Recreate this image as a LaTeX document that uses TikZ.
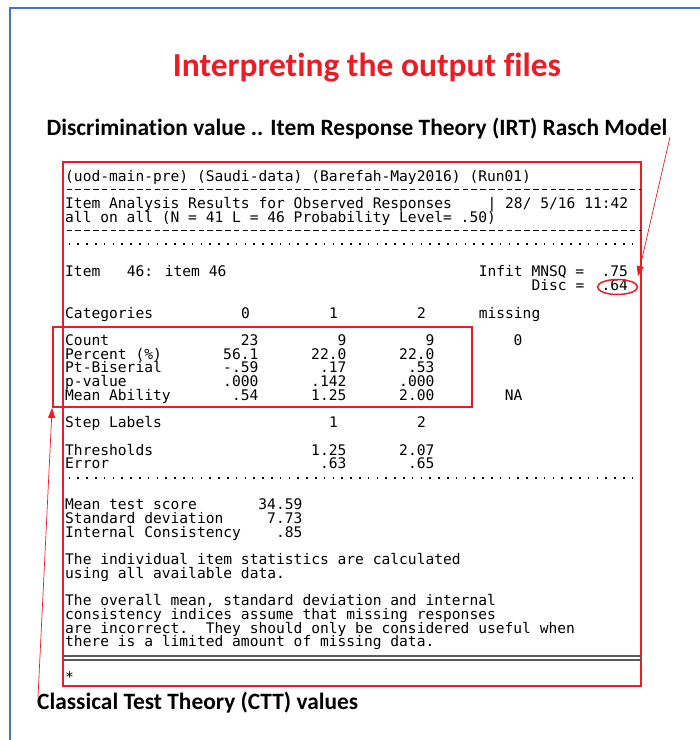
\documentclass[tikz,border=0pt]{standalone}
\usepackage{fontspec}
\setmainfont[Ligatures=NoCommon]{Carlito}
\newfontfamily\outfont{DejaVu Sans Mono}
\usetikzlibrary{arrows.meta,positioning,shapes.geometric}

\definecolor{slideblue}{RGB}{68,114,196}
\definecolor{markred}{RGB}{237,28,36}

\begin{document}
\begin{tikzpicture}[x=1pt, y=-1pt,
    declare function={cx(\c)=65+8.8*\c; ry(\r)=181+13.7*\r;},
    outtext/.style={font=\outfont\fontsize{14.6}{14}\selectfont, inner sep=0pt, anchor=base west},
    outnum/.style={outtext, anchor=base east},
    heading/.style={font=\bfseries\fontsize{33.5}{36}\selectfont, text=markred, inner sep=0pt},
    notelabel/.style={font=\bfseries\fontsize{23.4}{26}\selectfont, inner sep=0pt},
    outframe/.style={draw=markred, line width=1.2pt, minimum width=578pt, minimum height=524pt},
    cttframe/.style={draw=markred, line width=1.8pt, minimum width=419pt, minimum height=80pt},
    discmark/.style={draw=markred, ellipse, line width=1.5pt, minimum width=40pt, minimum height=15pt},
    dashrule/.style={line width=0.9pt, dash pattern=on 5.5pt off 3.3pt, dash phase=-1.6pt},
    dotrule/.style={line width=1.7pt, dash pattern=on 1.7pt off 7.1pt, dash phase=-3.5pt},
    doublerule/.style={line width=1.4pt, draw=black!65},
    pointer/.style={-{Triangle[length=10pt,width=7pt]}, draw=markred, line width=0.7pt},
    slideedge/.style={draw=slideblue, line width=1.6pt}
  ]
    \useasboundingbox (0,0) rectangle (700,740);
    \draw[slideedge] (10,740) -- (10,8) -- (700,8);

    % headings
    \node[heading] (title) at (367,68) {Interpreting the output files};
    \node[notelabel] (irt) at (357,129) {Discrimination value .. Item Response Theory (IRT) Rasch Model};
    \node[notelabel, anchor=west] (ctt) at (37,703) {Classical Test Theory (CTT) values};

    % output file
    \node[outframe] (outfile) at (352,424) {};
    \node[outtext] (head) at ({cx(0)},{ry(0)}) {(uod-main-pre) (Saudi-data) (Barefah-May2016) (Run01)};
    \draw[dashrule] ({cx(0)},189) -- (641,189);
    \node[outtext] (analysis) at ({cx(0)},{ry(2)}) {Item Analysis Results for Observed Responses};
    \node[outtext] (bar) at ({cx(48)},{ry(2)}) {|};
    \node[outtext] (stamp) at ({cx(50)},{ry(2)}) {28/ 5/16 11:42};
    \node[outtext] (allon) at ({cx(0)},{ry(3)}) {all on all (N = 41 L = 46 Probability Level= .50)};
    \draw[dashrule] ({cx(0)},230) -- (641,230);
    \draw[dotrule] ({cx(0)},244) -- (636,244);

    \node[outtext] (item) at ({cx(0)},{ry(7)}) {Item};
    \node[outtext] (itemno) at ({cx(7)},{ry(7)}) {46: item 46};
    \node[outtext] (infit) at ({cx(47)},{ry(7)}) {Infit MNSQ =};
    \node[outnum] (infitval) at ({cx(64)},{ry(7)}) {.75};
    \node[outtext] (disclab) at ({cx(53)},{ry(8)}) {Disc =};
    \node[outnum] (discval) at ({cx(64)},{ry(8)}) {.64};
    \node[discmark] (disc) at (617.5,287) {};

    \node[outtext] (cats) at ({cx(0)},{ry(10)}) {Categories};
    \node[outtext] (cat0) at ({cx(20)},{ry(10)}) {0};
    \node[outtext] (cat1) at ({cx(30)},{ry(10)}) {1};
    \node[outtext] (cat2) at ({cx(40)},{ry(10)}) {2};
    \node[outtext] (catm) at ({cx(47)},{ry(10)}) {missing};

    \foreach \r/\lab/\a/\b/\c in {12/Count/23/9/9, 13/Percent (\%)/56.1/22.0/22.0,
        14/Pt-Biserial/-.59/.17/.53, 15/p-value/.000/.142/.000, 16/Mean Ability/.54/1.25/2.00}{
      \node[outtext] (lab\r) at ({cx(0)},{ry(\r)}) {\lab};
      \node[outnum] (a\r) at ({cx(22)},{ry(\r)}) {\a};
      \node[outnum] (b\r) at ({cx(32)},{ry(\r)}) {\b};
      \node[outnum] (c\r) at ({cx(42)},{ry(\r)}) {\c};
    }
    \node[outnum] (miss12) at ({cx(52)},{ry(12)}) {0};
    \node[outnum] (miss16) at ({cx(52)},{ry(16)}) {NA};
    \node[cttframe] (cttbox) at (262.5,367) {};

    \node[outtext] (steps) at ({cx(0)},{ry(18)}) {Step Labels};
    \node[outtext] (step1) at ({cx(30)},{ry(18)}) {1};
    \node[outtext] (step2) at ({cx(40)},{ry(18)}) {2};
    \node[outtext] (thr) at ({cx(0)},{ry(20)}) {Thresholds};
    \node[outnum] (thr1) at ({cx(32)},{ry(20)}) {1.25};
    \node[outnum] (thr2) at ({cx(42)},{ry(20)}) {2.07};
    \node[outtext] (err) at ({cx(0)},{ry(21)}) {Error};
    \node[outnum] (err1) at ({cx(32)},{ry(21)}) {.63};
    \node[outnum] (err2) at ({cx(42)},{ry(21)}) {.65};
    \draw[dotrule] ({cx(0)},478) -- (636,478);

    \foreach \r/\lab/\v in {24/Mean test score/34.59, 25/Standard deviation/7.73, 26/Internal Consistency/.85}{
      \node[outtext] (lab\r) at ({cx(0)},{ry(\r)}) {\lab};
      \node[outnum] (v\r) at ({cx(27)},{ry(\r)}) {\v};
    }

    \node[outtext] (note1) at ({cx(0)},{ry(28)}) {The individual item statistics are calculated};
    \node[outtext] (note2) at ({cx(0)},{ry(29)}) {using all available data.};
    \node[outtext] (note3) at ({cx(0)},{ry(31)}) {The overall mean, standard deviation and internal};
    \node[outtext] (note4) at ({cx(0)},{ry(32)}) {consistency indices assume that missing responses};
    \node[outtext] (note5) at ({cx(0)},{ry(33)}) {are incorrect.\ \ They should only be considered useful when};
    \node[outtext] (note6) at ({cx(0)},{ry(34)}) {there is a limited amount of missing data.};
    \draw[doublerule] (63,656) -- (641,656);
    \draw[doublerule] (63,660) -- (641,660);
    \node[outtext] (prompt) at ({cx(0)},682) {*};

    % pointers
    \coordinate (irtTail) at (670,137);
    \coordinate (irtTip) at (638,276);
    \coordinate (cttTail) at (38,697);
    \draw[pointer] (irtTail) -- (irtTip);
    \draw[pointer] (cttTail) -- (cttbox.south west);
  \end{tikzpicture}
\end{document}
